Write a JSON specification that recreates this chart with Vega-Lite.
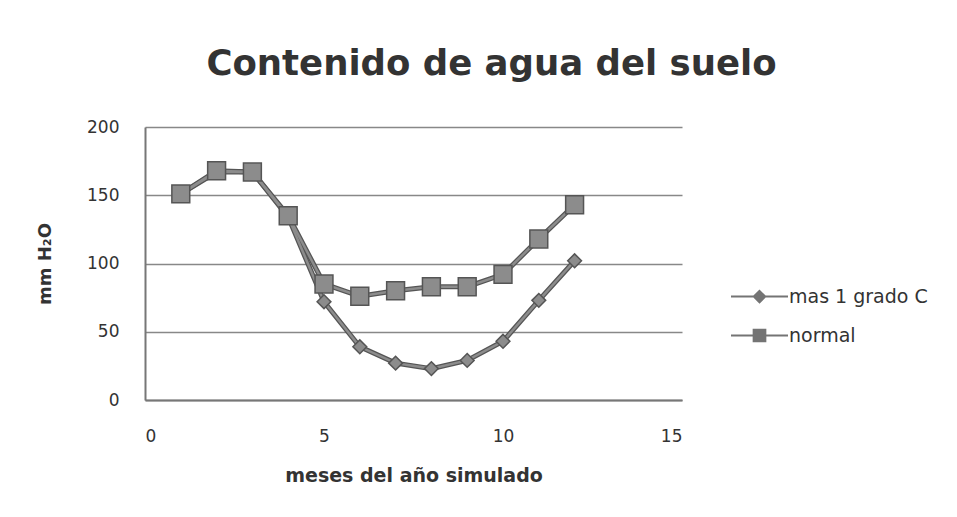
{
  "$schema": "https://vega.github.io/schema/vega-lite/v6.json",
  "width": 537,
  "height": 273,
  "autosize": "none",
  "padding": {"left": 145, "top": 127, "right": 275, "bottom": 117},
  "background": "white",
  "config": {"font": "DejaVu Sans", "view": {"stroke": null}},
  "title": {"text": "Contenido de agua del suelo", "font": "DejaVu Sans", "fontSize": 35.5, "fontWeight": "bold", "color": "#333333", "offset": 36, "dx": 78, "anchor": "middle"},
  "data": {"values": [
    {"mes": 1, "serie": "mas 1 grado C", "agua": 151},
    {"mes": 2, "serie": "mas 1 grado C", "agua": 167},
    {"mes": 3, "serie": "mas 1 grado C", "agua": 167},
    {"mes": 4, "serie": "mas 1 grado C", "agua": 134},
    {"mes": 5, "serie": "mas 1 grado C", "agua": 72},
    {"mes": 6, "serie": "mas 1 grado C", "agua": 39},
    {"mes": 7, "serie": "mas 1 grado C", "agua": 27},
    {"mes": 8, "serie": "mas 1 grado C", "agua": 23},
    {"mes": 9, "serie": "mas 1 grado C", "agua": 29},
    {"mes": 10, "serie": "mas 1 grado C", "agua": 43},
    {"mes": 11, "serie": "mas 1 grado C", "agua": 73},
    {"mes": 12, "serie": "mas 1 grado C", "agua": 102},
    {"mes": 1, "serie": "normal", "agua": 151},
    {"mes": 2, "serie": "normal", "agua": 168},
    {"mes": 3, "serie": "normal", "agua": 167},
    {"mes": 4, "serie": "normal", "agua": 135},
    {"mes": 5, "serie": "normal", "agua": 85},
    {"mes": 6, "serie": "normal", "agua": 76},
    {"mes": 7, "serie": "normal", "agua": 80},
    {"mes": 8, "serie": "normal", "agua": 83},
    {"mes": 9, "serie": "normal", "agua": 83},
    {"mes": 10, "serie": "normal", "agua": 92},
    {"mes": 11, "serie": "normal", "agua": 118},
    {"mes": 12, "serie": "normal", "agua": 143}
  ]},
  "encoding": {
    "x": {"field": "mes", "type": "quantitative", "scale": {"domain": [0, 15], "nice": false},
      "axis": {"values": [0, 5, 10, 15], "grid": false, "ticks": false, "domainColor": "#777777", "domainWidth": 2, "labelFontSize": 17, "labelColor": "#333333", "labelPadding": 28, "title": "meses del año simulado", "titleFontSize": 19, "titleFontWeight": "bold", "titleColor": "#333333", "titlePadding": 22}},
    "y": {"field": "agua", "type": "quantitative", "scale": {"domain": [0, 200], "nice": false},
      "axis": {"values": [0, 50, 100, 150, 200], "grid": true, "gridColor": "#888888", "gridWidth": 1.5, "ticks": false, "domainColor": "#777777", "domainWidth": 2, "labelFontSize": 17, "labelColor": "#333333", "labelPadding": 26, "title": "mm H₂O", "titleFontSize": 18, "titleFontWeight": "bold", "titleColor": "#333333", "titlePadding": 32}}
  },
  "layer": [
    {"mark": {"type": "line", "color": "#555555", "strokeWidth": 5}, "encoding": {"detail": {"field": "serie"}}},
    {"mark": {"type": "line", "color": "#8c8c8c", "strokeWidth": 2.5}, "encoding": {"detail": {"field": "serie"}}},
    {"mark": {"type": "point", "filled": true, "fill": "#747474", "opacity": 0},
      "encoding": {
        "shape": {"field": "serie", "type": "nominal", "scale": {"domain": ["mas 1 grado C", "normal"], "range": ["M-1,-0.035H-0.2V0.035H-1ZM0.2,-0.035H1V0.035H0.2ZM0,-0.25L0.25,0L0,0.25L-0.25,0Z", "M-1,-0.035H-0.24V0.035H-1ZM0.24,-0.035H1V0.035H0.24ZM-0.24,-0.24H0.24V0.24H-0.24Z"]},
          "legend": {"title": null, "orient": "none", "legendX": 586, "legendY": 141, "labelFontSize": 19, "labelColor": "#333333", "rowPadding": -17, "symbolSize": 3249, "symbolOpacity": 1, "symbolFillColor": "#747474", "symbolStrokeWidth": 0, "labelOffset": 1}}
      }},
    {"mark": {"type": "point", "filled": true, "fill": "#8c8c8c", "stroke": "#555555", "strokeWidth": 1.5, "opacity": 1},
      "encoding": {
        "shape": {"condition": {"test": "datum.serie == 'normal'", "value": "square"}, "value": "diamond"},
        "size": {"condition": {"test": "datum.serie == 'normal'", "value": 320}, "value": 190}
      }}
  ]
}
